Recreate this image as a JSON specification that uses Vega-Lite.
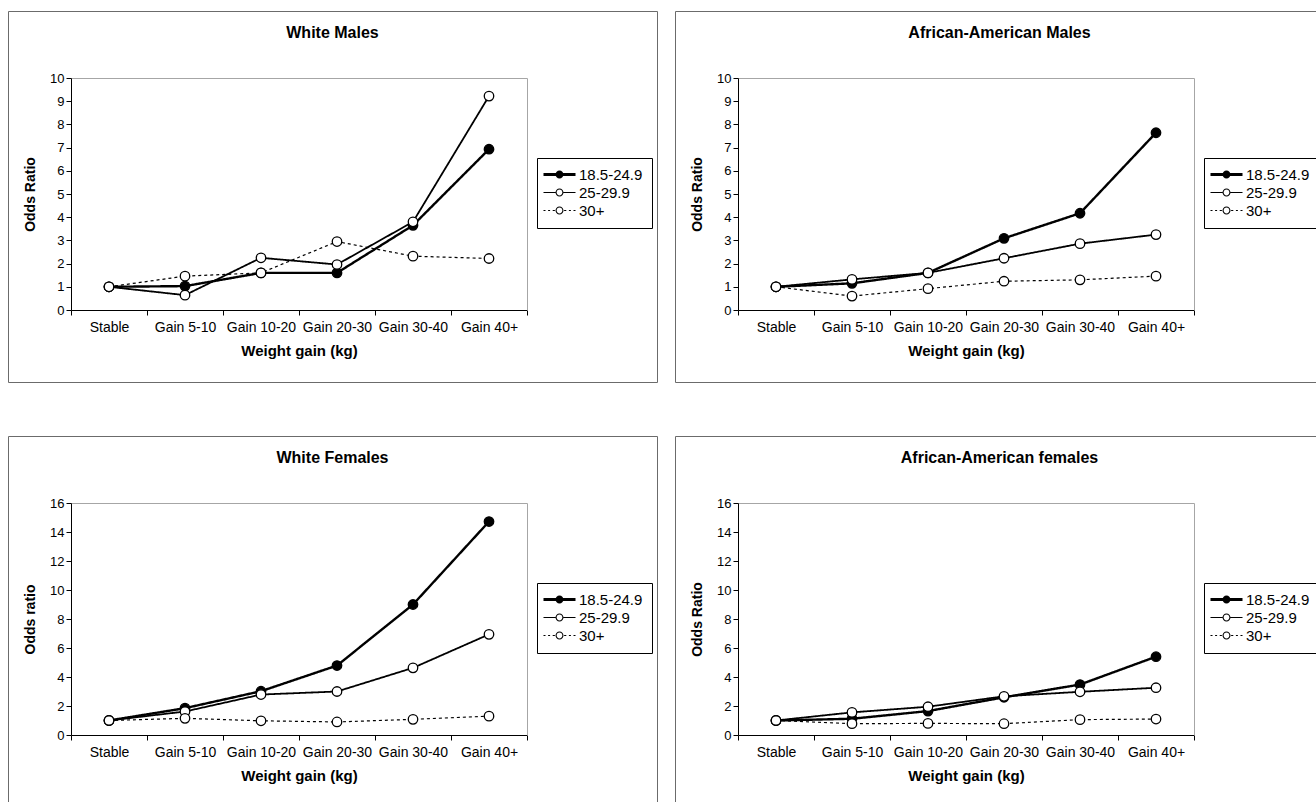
{
  "$schema": "https://vega.github.io/schema/vega-lite/v6.json",
  "padding": {"left": 7, "top": 10, "right": 0, "bottom": 0},
  "background": "white",
  "datasets": {
    "wm": [
      {"gain": "Stable", "bmi": "18.5-24.9", "odds": 1.0},
      {"gain": "Gain 5-10", "bmi": "18.5-24.9", "odds": 1.03},
      {"gain": "Gain 10-20", "bmi": "18.5-24.9", "odds": 1.6},
      {"gain": "Gain 20-30", "bmi": "18.5-24.9", "odds": 1.6},
      {"gain": "Gain 30-40", "bmi": "18.5-24.9", "odds": 3.65},
      {"gain": "Gain 40+", "bmi": "18.5-24.9", "odds": 6.93},
      {"gain": "Stable", "bmi": "25-29.9", "odds": 1.0},
      {"gain": "Gain 5-10", "bmi": "25-29.9", "odds": 0.64},
      {"gain": "Gain 10-20", "bmi": "25-29.9", "odds": 2.25},
      {"gain": "Gain 20-30", "bmi": "25-29.9", "odds": 1.96},
      {"gain": "Gain 30-40", "bmi": "25-29.9", "odds": 3.8},
      {"gain": "Gain 40+", "bmi": "25-29.9", "odds": 9.22},
      {"gain": "Stable", "bmi": "30+", "odds": 1.0},
      {"gain": "Gain 5-10", "bmi": "30+", "odds": 1.46},
      {"gain": "Gain 10-20", "bmi": "30+", "odds": 1.6},
      {"gain": "Gain 20-30", "bmi": "30+", "odds": 2.95},
      {"gain": "Gain 30-40", "bmi": "30+", "odds": 2.32},
      {"gain": "Gain 40+", "bmi": "30+", "odds": 2.22}
    ],
    "aam": [
      {"gain": "Stable", "bmi": "18.5-24.9", "odds": 1.0},
      {"gain": "Gain 5-10", "bmi": "18.5-24.9", "odds": 1.15},
      {"gain": "Gain 10-20", "bmi": "18.5-24.9", "odds": 1.6},
      {"gain": "Gain 20-30", "bmi": "18.5-24.9", "odds": 3.09},
      {"gain": "Gain 30-40", "bmi": "18.5-24.9", "odds": 4.17},
      {"gain": "Gain 40+", "bmi": "18.5-24.9", "odds": 7.64},
      {"gain": "Stable", "bmi": "25-29.9", "odds": 1.0},
      {"gain": "Gain 5-10", "bmi": "25-29.9", "odds": 1.32},
      {"gain": "Gain 10-20", "bmi": "25-29.9", "odds": 1.6},
      {"gain": "Gain 20-30", "bmi": "25-29.9", "odds": 2.23},
      {"gain": "Gain 30-40", "bmi": "25-29.9", "odds": 2.86},
      {"gain": "Gain 40+", "bmi": "25-29.9", "odds": 3.25},
      {"gain": "Stable", "bmi": "30+", "odds": 1.0},
      {"gain": "Gain 5-10", "bmi": "30+", "odds": 0.6},
      {"gain": "Gain 10-20", "bmi": "30+", "odds": 0.92},
      {"gain": "Gain 20-30", "bmi": "30+", "odds": 1.24},
      {"gain": "Gain 30-40", "bmi": "30+", "odds": 1.3},
      {"gain": "Gain 40+", "bmi": "30+", "odds": 1.46}
    ],
    "wf": [
      {"gain": "Stable", "bmi": "18.5-24.9", "odds": 1.0},
      {"gain": "Gain 5-10", "bmi": "18.5-24.9", "odds": 1.85},
      {"gain": "Gain 10-20", "bmi": "18.5-24.9", "odds": 3.02},
      {"gain": "Gain 20-30", "bmi": "18.5-24.9", "odds": 4.79},
      {"gain": "Gain 30-40", "bmi": "18.5-24.9", "odds": 9.0},
      {"gain": "Gain 40+", "bmi": "18.5-24.9", "odds": 14.72},
      {"gain": "Stable", "bmi": "25-29.9", "odds": 1.0},
      {"gain": "Gain 5-10", "bmi": "25-29.9", "odds": 1.62},
      {"gain": "Gain 10-20", "bmi": "25-29.9", "odds": 2.79},
      {"gain": "Gain 20-30", "bmi": "25-29.9", "odds": 3.0},
      {"gain": "Gain 30-40", "bmi": "25-29.9", "odds": 4.63},
      {"gain": "Gain 40+", "bmi": "25-29.9", "odds": 6.94},
      {"gain": "Stable", "bmi": "30+", "odds": 1.0},
      {"gain": "Gain 5-10", "bmi": "30+", "odds": 1.15},
      {"gain": "Gain 10-20", "bmi": "30+", "odds": 0.98},
      {"gain": "Gain 20-30", "bmi": "30+", "odds": 0.9},
      {"gain": "Gain 30-40", "bmi": "30+", "odds": 1.08},
      {"gain": "Gain 40+", "bmi": "30+", "odds": 1.3}
    ],
    "aaf": [
      {"gain": "Stable", "bmi": "18.5-24.9", "odds": 1.0},
      {"gain": "Gain 5-10", "bmi": "18.5-24.9", "odds": 1.12},
      {"gain": "Gain 10-20", "bmi": "18.5-24.9", "odds": 1.65},
      {"gain": "Gain 20-30", "bmi": "18.5-24.9", "odds": 2.6},
      {"gain": "Gain 30-40", "bmi": "18.5-24.9", "odds": 3.48},
      {"gain": "Gain 40+", "bmi": "18.5-24.9", "odds": 5.4},
      {"gain": "Stable", "bmi": "25-29.9", "odds": 1.0},
      {"gain": "Gain 5-10", "bmi": "25-29.9", "odds": 1.56},
      {"gain": "Gain 10-20", "bmi": "25-29.9", "odds": 1.95},
      {"gain": "Gain 20-30", "bmi": "25-29.9", "odds": 2.67},
      {"gain": "Gain 30-40", "bmi": "25-29.9", "odds": 2.98},
      {"gain": "Gain 40+", "bmi": "25-29.9", "odds": 3.26},
      {"gain": "Stable", "bmi": "30+", "odds": 1.0},
      {"gain": "Gain 5-10", "bmi": "30+", "odds": 0.78},
      {"gain": "Gain 10-20", "bmi": "30+", "odds": 0.8},
      {"gain": "Gain 20-30", "bmi": "30+", "odds": 0.78},
      {"gain": "Gain 30-40", "bmi": "30+", "odds": 1.06},
      {"gain": "Gain 40+", "bmi": "30+", "odds": 1.1}
    ]
  },
  "columns": 2,
  "spacing": {"row": 52, "column": 16},
  "concat": [
    {
      "width": 649, "height": 371,
      "title": {"text": "White Males"},
      "data": {"name": "wm"},
      "layer": [
        {
          "mark": {"type": "point", "filled": true, "color": "#000", "strokeWidth": 0, "size": 0, "opacity": 1},
          "encoding": {
            "x": {"field": "gain", "type": "nominal", "scale": {"type": "band", "domain": ["Stable", "Gain 5-10", "Gain 10-20", "Gain 20-30", "Gain 30-40", "Gain 40+"], "range": [63, 519], "paddingInner": 0, "paddingOuter": 0}, "axis": {"orient": "top", "offset": -67, "labels": false, "ticks": false, "title": null, "domainColor": "#a6a6a6"}},
            "y": {"field": "odds", "type": "quantitative", "scale": {"domain": [0, 10], "range": [299, 67], "nice": false}, "axis": {"orient": "right", "offset": -130, "labels": false, "ticks": false, "title": null, "domainColor": "#a6a6a6"}},
            "shape": {"field": "bmi", "type": "nominal", "scale": {"range": ["M-2.5,-0.375L5.5,-0.375L5.5,0.375L-2.5,0.375Z M0.5,0A1,1,0,1,1,2.5,0A1,1,0,1,1,0.5,0Z", "M-2.5,-0.14L0.5,-0.14L0.5,0.14L-2.5,0.14Z M2.5,-0.14L5.5,-0.14L5.5,0.14L2.5,0.14Z M0.5,0A1,1,0,1,1,2.5,0A1,1,0,1,1,0.5,0Z M0.78,0A0.72,0.72,0,1,0,2.22,0A0.72,0.72,0,1,0,0.78,0Z", "M-2.5,-0.14L-2,-0.14L-2,0.14L-2.5,0.14Z M-1.35,-0.14L-0.85,-0.14L-0.85,0.14L-1.35,0.14Z M-0.2,-0.14L0.35,-0.14L0.35,0.14L-0.2,0.14Z M2.65,-0.14L3.2,-0.14L3.2,0.14L2.65,0.14Z M3.85,-0.14L4.35,-0.14L4.35,0.14L3.85,0.14Z M5,-0.14L5.5,-0.14L5.5,0.14L5,0.14Z M0.5,0A1,1,0,1,1,2.5,0A1,1,0,1,1,0.5,0Z M0.78,0A0.72,0.72,0,1,0,2.22,0A0.72,0.72,0,1,0,0.78,0Z"]}, "legend": {"orient": "none", "legendX": 529, "legendY": 147}}
          }
        },
        {
          "mark": {"type": "line", "color": "#000"},
          "encoding": {
            "x": {"field": "gain", "type": "nominal", "axis": {"orient": "bottom", "offset": -72, "tickBand": "extent", "labelAngle": 0, "title": "Weight gain (kg)", "tickSize": 5, "labelPadding": 5, "titlePadding": 9, "labelFontSize": 14, "titleFontSize": 15}},
            "y": {"field": "odds", "type": "quantitative", "axis": {"orient": "left", "offset": -63, "values": [0, 1, 2, 3, 4, 5, 6, 7, 8, 9, 10], "title": "Odds Ratio", "tickSize": 5, "labelPadding": 2, "titlePadding": 12}},
            "strokeDash": {"field": "bmi", "type": "nominal", "scale": {"domain": ["18.5-24.9", "25-29.9", "30+"], "range": [[1, 0], [1, 0], [3, 3]]}, "legend": null},
            "strokeWidth": {"field": "bmi", "type": "ordinal", "scale": {"domain": ["18.5-24.9", "25-29.9", "30+"], "range": [2.4, 1.2, 1.2]}, "legend": null},
            "order": {"value": null}
          }
        },
        {
          "mark": {"type": "point", "shape": "circle", "filled": true, "stroke": "#000", "strokeWidth": 1.3, "size": 90, "opacity": 1},
          "encoding": {
            "x": {"field": "gain", "type": "nominal", "axis": null},
            "y": {"field": "odds", "type": "quantitative", "axis": null},
            "fill": {"field": "bmi", "type": "nominal", "scale": {"domain": ["18.5-24.9", "25-29.9", "30+"], "range": ["#000000", "#ffffff", "#ffffff"]}, "legend": null}
          }
        }
      ],
      "resolve": {"axis": {"x": "independent", "y": "independent"}}
    },
    {
      "width": 649, "height": 371,
      "title": {"text": "African-American Males"},
      "data": {"name": "aam"},
      "layer": [
        {
          "mark": {"type": "point", "filled": true, "color": "#000", "strokeWidth": 0, "size": 0, "opacity": 1},
          "encoding": {
            "x": {"field": "gain", "type": "nominal", "scale": {"type": "band", "domain": ["Stable", "Gain 5-10", "Gain 10-20", "Gain 20-30", "Gain 30-40", "Gain 40+"], "range": [63, 519], "paddingInner": 0, "paddingOuter": 0}, "axis": {"orient": "top", "offset": -67, "labels": false, "ticks": false, "title": null, "domainColor": "#a6a6a6"}},
            "y": {"field": "odds", "type": "quantitative", "scale": {"domain": [0, 10], "range": [299, 67], "nice": false}, "axis": {"orient": "right", "offset": -130, "labels": false, "ticks": false, "title": null, "domainColor": "#a6a6a6"}},
            "shape": {"field": "bmi", "type": "nominal", "scale": {"range": ["M-2.5,-0.375L5.5,-0.375L5.5,0.375L-2.5,0.375Z M0.5,0A1,1,0,1,1,2.5,0A1,1,0,1,1,0.5,0Z", "M-2.5,-0.14L0.5,-0.14L0.5,0.14L-2.5,0.14Z M2.5,-0.14L5.5,-0.14L5.5,0.14L2.5,0.14Z M0.5,0A1,1,0,1,1,2.5,0A1,1,0,1,1,0.5,0Z M0.78,0A0.72,0.72,0,1,0,2.22,0A0.72,0.72,0,1,0,0.78,0Z", "M-2.5,-0.14L-2,-0.14L-2,0.14L-2.5,0.14Z M-1.35,-0.14L-0.85,-0.14L-0.85,0.14L-1.35,0.14Z M-0.2,-0.14L0.35,-0.14L0.35,0.14L-0.2,0.14Z M2.65,-0.14L3.2,-0.14L3.2,0.14L2.65,0.14Z M3.85,-0.14L4.35,-0.14L4.35,0.14L3.85,0.14Z M5,-0.14L5.5,-0.14L5.5,0.14L5,0.14Z M0.5,0A1,1,0,1,1,2.5,0A1,1,0,1,1,0.5,0Z M0.78,0A0.72,0.72,0,1,0,2.22,0A0.72,0.72,0,1,0,0.78,0Z"]}, "legend": {"orient": "none", "legendX": 529, "legendY": 147}}
          }
        },
        {
          "mark": {"type": "line", "color": "#000"},
          "encoding": {
            "x": {"field": "gain", "type": "nominal", "axis": {"orient": "bottom", "offset": -72, "tickBand": "extent", "labelAngle": 0, "title": "Weight gain (kg)", "tickSize": 5, "labelPadding": 5, "titlePadding": 9, "labelFontSize": 14, "titleFontSize": 15}},
            "y": {"field": "odds", "type": "quantitative", "axis": {"orient": "left", "offset": -63, "values": [0, 1, 2, 3, 4, 5, 6, 7, 8, 9, 10], "title": "Odds Ratio", "tickSize": 5, "labelPadding": 2, "titlePadding": 12}},
            "strokeDash": {"field": "bmi", "type": "nominal", "scale": {"domain": ["18.5-24.9", "25-29.9", "30+"], "range": [[1, 0], [1, 0], [3, 3]]}, "legend": null},
            "strokeWidth": {"field": "bmi", "type": "ordinal", "scale": {"domain": ["18.5-24.9", "25-29.9", "30+"], "range": [2.4, 1.2, 1.2]}, "legend": null},
            "order": {"value": null}
          }
        },
        {
          "mark": {"type": "point", "shape": "circle", "filled": true, "stroke": "#000", "strokeWidth": 1.3, "size": 90, "opacity": 1},
          "encoding": {
            "x": {"field": "gain", "type": "nominal", "axis": null},
            "y": {"field": "odds", "type": "quantitative", "axis": null},
            "fill": {"field": "bmi", "type": "nominal", "scale": {"domain": ["18.5-24.9", "25-29.9", "30+"], "range": ["#000000", "#ffffff", "#ffffff"]}, "legend": null}
          }
        }
      ],
      "resolve": {"axis": {"x": "independent", "y": "independent"}}
    },
    {
      "width": 649, "height": 371,
      "title": {"text": "White Females"},
      "data": {"name": "wf"},
      "layer": [
        {
          "mark": {"type": "point", "filled": true, "color": "#000", "strokeWidth": 0, "size": 0, "opacity": 1},
          "encoding": {
            "x": {"field": "gain", "type": "nominal", "scale": {"type": "band", "domain": ["Stable", "Gain 5-10", "Gain 10-20", "Gain 20-30", "Gain 30-40", "Gain 40+"], "range": [63, 519], "paddingInner": 0, "paddingOuter": 0}, "axis": {"orient": "top", "offset": -67, "labels": false, "ticks": false, "title": null, "domainColor": "#a6a6a6"}},
            "y": {"field": "odds", "type": "quantitative", "scale": {"domain": [0, 16], "range": [299, 67], "nice": false}, "axis": {"orient": "right", "offset": -130, "labels": false, "ticks": false, "title": null, "domainColor": "#a6a6a6"}},
            "shape": {"field": "bmi", "type": "nominal", "scale": {"range": ["M-2.5,-0.375L5.5,-0.375L5.5,0.375L-2.5,0.375Z M0.5,0A1,1,0,1,1,2.5,0A1,1,0,1,1,0.5,0Z", "M-2.5,-0.14L0.5,-0.14L0.5,0.14L-2.5,0.14Z M2.5,-0.14L5.5,-0.14L5.5,0.14L2.5,0.14Z M0.5,0A1,1,0,1,1,2.5,0A1,1,0,1,1,0.5,0Z M0.78,0A0.72,0.72,0,1,0,2.22,0A0.72,0.72,0,1,0,0.78,0Z", "M-2.5,-0.14L-2,-0.14L-2,0.14L-2.5,0.14Z M-1.35,-0.14L-0.85,-0.14L-0.85,0.14L-1.35,0.14Z M-0.2,-0.14L0.35,-0.14L0.35,0.14L-0.2,0.14Z M2.65,-0.14L3.2,-0.14L3.2,0.14L2.65,0.14Z M3.85,-0.14L4.35,-0.14L4.35,0.14L3.85,0.14Z M5,-0.14L5.5,-0.14L5.5,0.14L5,0.14Z M0.5,0A1,1,0,1,1,2.5,0A1,1,0,1,1,0.5,0Z M0.78,0A0.72,0.72,0,1,0,2.22,0A0.72,0.72,0,1,0,0.78,0Z"]}, "legend": {"orient": "none", "legendX": 529, "legendY": 147}}
          }
        },
        {
          "mark": {"type": "line", "color": "#000"},
          "encoding": {
            "x": {"field": "gain", "type": "nominal", "axis": {"orient": "bottom", "offset": -72, "tickBand": "extent", "labelAngle": 0, "title": "Weight gain (kg)", "tickSize": 5, "labelPadding": 5, "titlePadding": 9, "labelFontSize": 14, "titleFontSize": 15}},
            "y": {"field": "odds", "type": "quantitative", "axis": {"orient": "left", "offset": -63, "values": [0, 2, 4, 6, 8, 10, 12, 14, 16], "title": "Odds ratio", "tickSize": 5, "labelPadding": 2, "titlePadding": 12}},
            "strokeDash": {"field": "bmi", "type": "nominal", "scale": {"domain": ["18.5-24.9", "25-29.9", "30+"], "range": [[1, 0], [1, 0], [3, 3]]}, "legend": null},
            "strokeWidth": {"field": "bmi", "type": "ordinal", "scale": {"domain": ["18.5-24.9", "25-29.9", "30+"], "range": [2.4, 1.2, 1.2]}, "legend": null},
            "order": {"value": null}
          }
        },
        {
          "mark": {"type": "point", "shape": "circle", "filled": true, "stroke": "#000", "strokeWidth": 1.3, "size": 90, "opacity": 1},
          "encoding": {
            "x": {"field": "gain", "type": "nominal", "axis": null},
            "y": {"field": "odds", "type": "quantitative", "axis": null},
            "fill": {"field": "bmi", "type": "nominal", "scale": {"domain": ["18.5-24.9", "25-29.9", "30+"], "range": ["#000000", "#ffffff", "#ffffff"]}, "legend": null}
          }
        }
      ],
      "resolve": {"axis": {"x": "independent", "y": "independent"}}
    },
    {
      "width": 649, "height": 371,
      "title": {"text": "African-American females"},
      "data": {"name": "aaf"},
      "layer": [
        {
          "mark": {"type": "point", "filled": true, "color": "#000", "strokeWidth": 0, "size": 0, "opacity": 1},
          "encoding": {
            "x": {"field": "gain", "type": "nominal", "scale": {"type": "band", "domain": ["Stable", "Gain 5-10", "Gain 10-20", "Gain 20-30", "Gain 30-40", "Gain 40+"], "range": [63, 519], "paddingInner": 0, "paddingOuter": 0}, "axis": {"orient": "top", "offset": -67, "labels": false, "ticks": false, "title": null, "domainColor": "#a6a6a6"}},
            "y": {"field": "odds", "type": "quantitative", "scale": {"domain": [0, 16], "range": [299, 67], "nice": false}, "axis": {"orient": "right", "offset": -130, "labels": false, "ticks": false, "title": null, "domainColor": "#a6a6a6"}},
            "shape": {"field": "bmi", "type": "nominal", "scale": {"range": ["M-2.5,-0.375L5.5,-0.375L5.5,0.375L-2.5,0.375Z M0.5,0A1,1,0,1,1,2.5,0A1,1,0,1,1,0.5,0Z", "M-2.5,-0.14L0.5,-0.14L0.5,0.14L-2.5,0.14Z M2.5,-0.14L5.5,-0.14L5.5,0.14L2.5,0.14Z M0.5,0A1,1,0,1,1,2.5,0A1,1,0,1,1,0.5,0Z M0.78,0A0.72,0.72,0,1,0,2.22,0A0.72,0.72,0,1,0,0.78,0Z", "M-2.5,-0.14L-2,-0.14L-2,0.14L-2.5,0.14Z M-1.35,-0.14L-0.85,-0.14L-0.85,0.14L-1.35,0.14Z M-0.2,-0.14L0.35,-0.14L0.35,0.14L-0.2,0.14Z M2.65,-0.14L3.2,-0.14L3.2,0.14L2.65,0.14Z M3.85,-0.14L4.35,-0.14L4.35,0.14L3.85,0.14Z M5,-0.14L5.5,-0.14L5.5,0.14L5,0.14Z M0.5,0A1,1,0,1,1,2.5,0A1,1,0,1,1,0.5,0Z M0.78,0A0.72,0.72,0,1,0,2.22,0A0.72,0.72,0,1,0,0.78,0Z"]}, "legend": {"orient": "none", "legendX": 529, "legendY": 147}}
          }
        },
        {
          "mark": {"type": "line", "color": "#000"},
          "encoding": {
            "x": {"field": "gain", "type": "nominal", "axis": {"orient": "bottom", "offset": -72, "tickBand": "extent", "labelAngle": 0, "title": "Weight gain (kg)", "tickSize": 5, "labelPadding": 5, "titlePadding": 9, "labelFontSize": 14, "titleFontSize": 15}},
            "y": {"field": "odds", "type": "quantitative", "axis": {"orient": "left", "offset": -63, "values": [0, 2, 4, 6, 8, 10, 12, 14, 16], "title": "Odds Ratio", "tickSize": 5, "labelPadding": 2, "titlePadding": 12}},
            "strokeDash": {"field": "bmi", "type": "nominal", "scale": {"domain": ["18.5-24.9", "25-29.9", "30+"], "range": [[1, 0], [1, 0], [3, 3]]}, "legend": null},
            "strokeWidth": {"field": "bmi", "type": "ordinal", "scale": {"domain": ["18.5-24.9", "25-29.9", "30+"], "range": [2.4, 1.2, 1.2]}, "legend": null},
            "order": {"value": null}
          }
        },
        {
          "mark": {"type": "point", "shape": "circle", "filled": true, "stroke": "#000", "strokeWidth": 1.3, "size": 90, "opacity": 1},
          "encoding": {
            "x": {"field": "gain", "type": "nominal", "axis": null},
            "y": {"field": "odds", "type": "quantitative", "axis": null},
            "fill": {"field": "bmi", "type": "nominal", "scale": {"domain": ["18.5-24.9", "25-29.9", "30+"], "range": ["#000000", "#ffffff", "#ffffff"]}, "legend": null}
          }
        }
      ],
      "resolve": {"axis": {"x": "independent", "y": "independent"}}
    }
  ],
  "resolve": {"scale": {"fill": "independent", "shape": "independent", "strokeDash": "independent", "strokeWidth": "independent"}},
  "config": {
    "font": "Liberation Sans",
    "view": {"stroke": "#6b6b6b", "strokeWidth": 1},
    "axis": {"domainColor": "#000", "tickColor": "#000", "labelColor": "#000", "titleColor": "#000", "labelFontSize": 13, "titleFontSize": 14, "titleFontWeight": "bold", "grid": false, "labelFont": "Liberation Sans", "titleFont": "Liberation Sans"},
    "title": {"fontSize": 16, "fontWeight": "bold", "color": "#000", "offset": -30, "baseline": "middle", "anchor": "middle", "font": "Liberation Sans"},
    "legend": {"title": null, "strokeColor": "#000", "fillColor": "#fff", "padding": 9, "symbolSize": 64, "symbolStrokeWidth": 0, "symbolFillColor": "#000", "labelFontSize": 15, "labelColor": "#000", "labelOffset": 18, "rowPadding": 2, "cornerRadius": 0, "labelFont": "Liberation Sans"}
  }
}
